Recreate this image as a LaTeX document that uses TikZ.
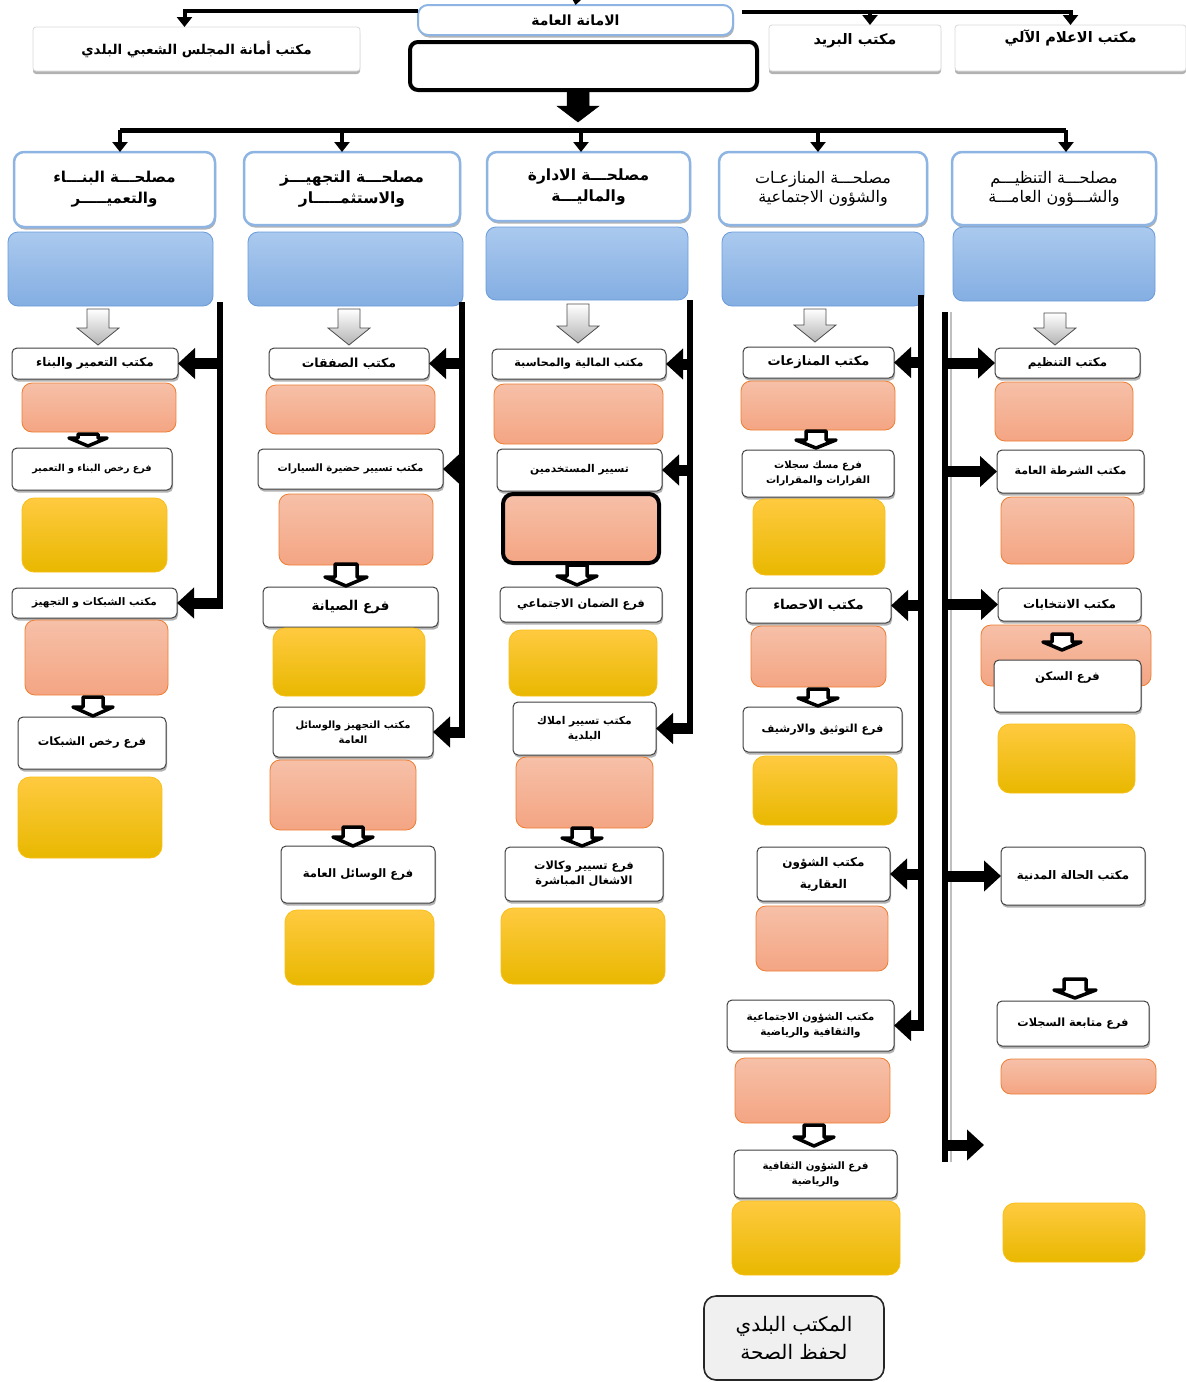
\documentclass[tikz,border=0pt]{standalone}
\usepackage{fontspec}
\newfontfamily\arfont[Script=Arabic]{DejaVu Sans}
\TeXXeTstate=1
\usetikzlibrary{arrows.meta,shadows,calc}
\newcommand\ar[1]{\beginR #1\endR}
\newcommand\bx[7]{\node[#2, minimum width={(#5-#3)*1pt}, minimum height={(#6-#4)*1pt}] (#1) at ({(#3+#5)/2},{(#4+#6)/2}) {#7};}
\newcommand\dnarr[7]{\draw[#1] (#2-#5,#3) -- (#2+#5,#3) -- (#2+#5,#4-#7) -- (#2+#6,#4-#7) -- (#2,#4) -- (#2-#6,#4-#7) -- (#2-#5,#4-#7) -- cycle;}
\definecolor{hdrblue}{RGB}{141,180,226}
\definecolor{blueT}{RGB}{170,201,238}
\definecolor{blueB}{RGB}{132,174,226}
\definecolor{blueD}{RGB}{105,155,218}
\definecolor{orT}{RGB}{246,192,168}
\definecolor{orB}{RGB}{244,165,131}
\definecolor{orD}{RGB}{237,125,49}
\definecolor{yeT}{RGB}{255,202,64}
\definecolor{yeM}{RGB}{255,194,0}
\definecolor{yeB}{RGB}{232,184,0}
\definecolor{yeD}{RGB}{250,190,20}
\tikzset{
  every node/.style={inner sep=1pt, outer sep=0pt, align=center},
  fnt/.style={font=\arfont\bfseries\fontsize{#1}{15}\selectfont},
  rfnt/.style={font=\arfont\fontsize{#1}{19}\selectfont},
  hfnt/.style={font=\arfont\bfseries\fontsize{#1}{21}\selectfont},
  office/.style={draw=black!75, line width=1pt, fill=white, rounded corners=5pt,
    drop shadow={shadow xshift=1pt, shadow yshift=-2.5pt, opacity=0.3, fill=black},
    fnt=12},
  header/.style={draw=hdrblue, line width=2.5pt, fill=white, rounded corners=10pt,
    drop shadow={shadow xshift=1pt, shadow yshift=-2.5pt, opacity=0.3, fill=black}},
  topbox/.style={draw=black!15, line width=0.8pt, fill=white, rounded corners=3pt,
    drop shadow={shadow xshift=0pt, shadow yshift=-3pt, opacity=0.3, fill=black}},
  blackbox/.style={draw=black, line width=4pt, fill=white, rounded corners=8pt},
  bluebox/.style={draw=blueD, line width=0.8pt, top color=blueT, bottom color=blueB, rounded corners=10pt},
  orangebox/.style={draw=orD, line width=0.8pt, top color=orT, bottom color=orB, rounded corners=10pt},
  yellowbox/.style={draw=yeD, line width=0.8pt, top color=yeT, middle color=yeM, bottom color=yeB, rounded corners=12pt},
  bottombox/.style={draw=black!85, line width=1.6pt, fill=black!6, rounded corners=12pt,
    font=\arfont\fontsize{20}{28}\selectfont},
  toparr/.style={line width=4pt, -{Triangle[length=10pt,width=15pt]}},
  hbarst/.style={line width=5pt},
  bar/.style={line width=6.5pt},
  sidearr/.style={line width=11pt, -{Triangle[length=17pt,width=30pt]}},
  grayarr/.style={draw=black!70, line width=0.8pt, top color=white, bottom color=black!30},
  whitearr/.style={draw=black, line width=3.5pt, fill=white, line join=round},
  blackarr/.style={fill=black, draw=black, line width=0.5pt},
}
\begin{document}
\begin{tikzpicture}[x=1pt,y=-1pt]
\useasboundingbox (0,0) rectangle (1186,1382);
% ---------- top level ----------
\bx{amana}{header, fnt=14, line width=2pt}{418}{5}{733}{35}{\ar{الامانة العامة}}
\bx{blk}{blackbox}{410}{42}{757}{90}{}
\bx{majlis}{topbox, fnt=13.5}{33}{27}{360}{71}{\ar{مكتب أمانة المجلس الشعبي البلدي}}
\bx{barid}{topbox, fnt=14.5, text depth=19pt}{769}{25}{941}{71}{\ar{مكتب البريد}}
\bx{ilam}{topbox, fnt=14.5, text depth=24pt}{955}{25}{1186}{71}{\ar{مكتب الاعلام الآلي}}
\coordinate (tin) at (578,-10);
\draw[toparr] (tin) -- (amana.north);
\draw[toparr] ([yshift=9pt]amana.west) -| ([xshift=-12pt]majlis.north);
\coordinate (rl) at ([xshift=9pt,yshift=8pt]amana.east);
\draw[toparr] (rl) -| (ilam.north);
\draw[toparr] ([xshift=15pt]barid.north |- rl) -- ([xshift=15pt]barid.north);
% ---------- headers ----------
\bx{h1}{header, hfnt=15}{14}{152}{215}{227}{\ar{مصلحـــة البنـــاء}\\\ar{والتعميـــــر}}
\bx{h2}{header, hfnt=15.5}{244}{152}{460}{225}{\ar{مصلحـــة التجهيـــز}\\\ar{والاستثمـــــار}}
\bx{h3}{header, hfnt=15.5}{487}{152}{690}{221}{\ar{مصلحـــة الادارة}\\\ar{والماليـــة}}
\bx{h4}{header, rfnt=16}{719}{152}{927}{225}{\ar{مصلحـــة المنازعـات}\\\ar{والشؤون الاجتماعية}}
\bx{h5}{header, rfnt=16}{952}{152}{1156}{225}{\ar{مصلحـــة التنظيـــم}\\\ar{والشـــؤون العامـــة}}
\coordinate (hub) at (578,130);
\dnarr{blackarr}{578}{90}{122}{11}{21}{16}
\draw[hbarst] ([xshift=5.5pt]h1.north |- hub) -- ([xshift=12pt]h5.north |- hub);
\draw[toparr] ([xshift=5.5pt]h1.north |- hub) -- ([xshift=5.5pt]h1.north);
\draw[toparr] ([xshift=-10pt]h2.north |- hub) -- ([xshift=-10pt]h2.north);
\draw[toparr] ([xshift=-7.5pt]h3.north |- hub) -- ([xshift=-7.5pt]h3.north);
\draw[toparr] ([xshift=-5pt]h4.north |- hub) -- ([xshift=-5pt]h4.north);
\draw[toparr] ([xshift=12pt]h5.north |- hub) -- ([xshift=12pt]h5.north);
% ---------- blue boxes ----------
\bx{u1}{bluebox}{8}{232}{213}{306}{}
\bx{u2}{bluebox}{248}{232}{463}{306}{}
\bx{u3}{bluebox}{486}{227}{688}{300}{}
\bx{u4}{bluebox}{722}{232}{924}{306}{}
\bx{u5}{bluebox}{953}{227}{1155}{301}{}
\dnarr{grayarr}{98}{309}{345}{11}{21}{17}
\dnarr{grayarr}{349}{309}{345}{11}{21}{17}
\dnarr{grayarr}{578}{304}{343}{11}{21}{17}
\dnarr{grayarr}{815}{309}{342}{11}{21}{17}
\dnarr{grayarr}{1055}{313}{345}{11}{21}{17}
% ---------- column 1 ----------
\bx{a1}{office, fnt=12}{12}{348}{178}{379}{\ar{مكتب التعمير والبناء}}
\bx{a1o}{orangebox}{22}{383}{176}{432}{}
\bx{a2}{office, fnt=9.6}{12}{448}{172}{490}{\ar{فرع رخص البناء و التعمير}}
\bx{a2y}{yellowbox}{22}{498}{167}{572}{}
\bx{a3}{office, fnt=10.4}{12}{588}{177}{618}{\ar{مكتب الشبكات و التجهيز}}
\bx{a3o}{orangebox}{25}{620}{168}{695}{}
\bx{a4}{office, fnt=11.5}{18}{717}{166}{769}{\ar{فرع رخص الشبكات}}
\bx{a4y}{yellowbox}{18}{777}{162}{858}{}
\dnarr{whitearr}{88}{434}{446}{10}{19}{8}
\dnarr{whitearr}{93}{697}{716}{10}{20}{9}
\coordinate (bar1) at (220,302);
\draw[bar] (bar1) -- ($(bar1 |- a3.east)+(0,5.5)$);
\draw[sidearr] (a1.east -| bar1) -- (a1.east);
\draw[sidearr] (a3.east -| bar1) -- (a3.east);
% ---------- column 2 ----------
\bx{b1}{office, fnt=12.5}{269}{348}{429}{379}{\ar{مكتب الصفقات}}
\bx{b1o}{orangebox}{266}{385}{435}{434}{}
\bx{b2}{office, fnt=10.2}{258}{449}{443}{489}{\ar{مكتب تسيير حضيرة السيارات}}
\bx{b2o}{orangebox}{279}{494}{433}{565}{}
\bx{b3}{office, fnt=13.5}{263}{587}{438}{627}{\ar{فرع الصيانة}}
\bx{b3y}{yellowbox}{273}{628}{425}{696}{}
\bx{b4}{office, fnt=10}{273}{707}{433}{757}{\ar{مكتب التجهيز والوسائل}\\\ar{العامة}}
\bx{b4o}{orangebox}{270}{760}{416}{830}{}
\bx{b5}{office, fnt=11.6}{281}{846}{435}{903}{\ar{فرع الوسائل العامة}}
\bx{b5y}{yellowbox}{285}{910}{434}{985}{}
\dnarr{whitearr}{346}{564}{586}{11}{21}{9}
\dnarr{whitearr}{353}{827}{846}{10}{20}{9}
\coordinate (bar2) at (462,302);
\draw[bar] (bar2) -- ($(bar2 |- b4.east)+(0,5.5)$);
\draw[sidearr] (b1.east -| bar2) -- (b1.east);
\draw[sidearr] (b2.east -| bar2) -- (b2.east);
\draw[sidearr] (b4.east -| bar2) -- (b4.east);
% ---------- column 3 ----------
\bx{c1}{office, fnt=11.1}{492}{349}{666}{379}{\ar{مكتب المالية والمحاسبة}}
\bx{c1o}{orangebox}{494}{384}{663}{444}{}
\bx{c2}{office, fnt=10.7}{497}{449}{662}{491}{\ar{تسيير  المستخدمين}}
\bx{c2o}{orangebox, draw=black, line width=4pt}{503}{494}{659}{563}{}
\bx{c3}{office, fnt=11.4}{500}{587}{662}{622}{\ar{فرع الضمان الاجتماعي}}
\bx{c3y}{yellowbox}{509}{630}{657}{696}{}
\bx{c4}{office, fnt=10.7}{513}{702}{656}{755}{\ar{مكتب تسيير املاك}\\\ar{البلدية}}
\bx{c4o}{orangebox}{516}{757}{653}{828}{}
\bx{c5}{office, fnt=11.3}{505}{847}{663}{901}{\ar{فرع تسيير وكالات}\\\ar{الاشغال المباشرة}}
\bx{c5y}{yellowbox}{501}{908}{665}{984}{}
\dnarr{whitearr}{577}{565}{585}{10}{20}{9}
\dnarr{whitearr}{582}{828}{846}{10}{20}{8}
\coordinate (bar3) at (690,300);
\draw[bar] (bar3) -- ($(bar3 |- c4.east)+(0,5.5)$);
\draw[sidearr] (c1.east -| bar3) -- (c1.east);
\draw[sidearr] (c2.east -| bar3) -- (c2.east);
\draw[sidearr] (c4.east -| bar3) -- (c4.east);
% ---------- column 4 ----------
\bx{d1}{office, fnt=13}{743}{347}{894}{378}{\ar{مكتب المنازعات}}
\bx{d1o}{orangebox}{741}{381}{895}{430}{}
\bx{d2}{office, fnt=10.1}{742}{450}{894}{497}{\ar{فرع مسك سجلات}\\\ar{القرارات والمقرارات}}
\bx{d2y}{yellowbox}{753}{499}{885}{575}{}
\bx{d3}{office, fnt=13.5}{746}{588}{891}{623}{\ar{مكتب الاحصاء}}
\bx{d3o}{orangebox}{751}{626}{886}{687}{}
\bx{d4}{office, fnt=11.1}{743}{707}{902}{752}{\ar{فرع التوثيق والارشيف}}
\bx{d4y}{yellowbox}{753}{756}{897}{825}{}
\bx{d5}{office, font=\arfont\bfseries\fontsize{12}{22}\selectfont}{757}{847}{890}{901}{\ar{مكتب الشؤون}\\\ar{العقارية}}
\bx{d5o}{orangebox}{756}{906}{888}{971}{}
\bx{d6}{office, fnt=10.5}{727}{1000}{894}{1051}{\ar{مكتب الشؤون الاجتماعية}\\\ar{والثقافية والرياضية}}
\bx{d6o}{orangebox}{735}{1058}{890}{1123}{}
\bx{d7}{office, fnt=10.2}{734}{1150}{897}{1198}{\ar{فرع الشؤون الثقافية}\\\ar{والرياضية}}
\bx{d7y}{yellowbox}{732}{1201}{900}{1275}{}
\bx{hifz}{bottombox}{704}{1296}{884}{1380}{\ar{المكتب البلدي}\\\ar{لحفظ الصحة}}
\dnarr{whitearr}{816}{431}{448}{10}{20}{8}
\dnarr{whitearr}{818}{689}{706}{10}{20}{8}
\dnarr{whitearr}{814}{1125}{1146}{10}{20}{9}
\coordinate (bar4) at (921,295);
\draw[bar] (bar4) -- ($(bar4 |- d6.east)+(0,5.5)$);
\draw[sidearr] (d1.east -| bar4) -- (d1.east);
\draw[sidearr] (d3.east -| bar4) -- (d3.east);
\draw[sidearr] (d5.east -| bar4) -- (d5.east);
\draw[sidearr] (d6.east -| bar4) -- (d6.east);
% ---------- column 5 ----------
\bx{e1}{office, fnt=11.8}{995}{348}{1140}{378}{\ar{مكتب التنظيم}}
\bx{e1o}{orangebox}{995}{382}{1133}{441}{}
\bx{e2}{office, fnt=11}{997}{450}{1144}{493}{\ar{مكتب الشرطة العامة}}
\bx{e2o}{orangebox}{1001}{497}{1134}{564}{}
\bx{e3}{office, fnt=12}{998}{588}{1141}{621}{\ar{مكتب الانتخابات}}
\bx{e3o}{orangebox}{981}{625}{1151}{686}{}
\dnarr{whitearr}{1062}{634}{650}{10}{19}{8}
\bx{e4}{office, fnt=11.7, text depth=20pt}{994}{660}{1141}{712}{\ar{فرع السكن}}
\bx{e4y}{yellowbox}{998}{724}{1135}{793}{}
\bx{e5}{office, fnt=11.8}{1001}{847}{1145}{905}{\ar{مكتب الحالة المدنية}}
\bx{e6}{office, fnt=11.3}{997}{1001}{1149}{1046}{\ar{فرع متابعة السجلات}}
\bx{e6o}{orangebox}{1001}{1059}{1156}{1094}{}
\bx{e7y}{yellowbox}{1003}{1203}{1145}{1262}{}
\dnarr{whitearr}{1075}{979}{998}{11}{21}{8}
\coordinate (bar5) at (945,312);
\coordinate (freeend) at (984,1145);
\draw[line width=2pt, black!25] (951,312) -- (951,1162);
\draw[bar] (bar5) -- ($(bar5 |- freeend)+(0,17)$);
\draw[sidearr] (e1.west -| bar5) -- (e1.west);
\draw[sidearr] (e2.west -| bar5) -- (e2.west);
\draw[sidearr] (e3.west -| bar5) -- (e3.west);
\draw[sidearr] (e5.west -| bar5) -- (e5.west);
\draw[sidearr] (freeend -| bar5) -- (freeend);
\end{tikzpicture}
\end{document}
